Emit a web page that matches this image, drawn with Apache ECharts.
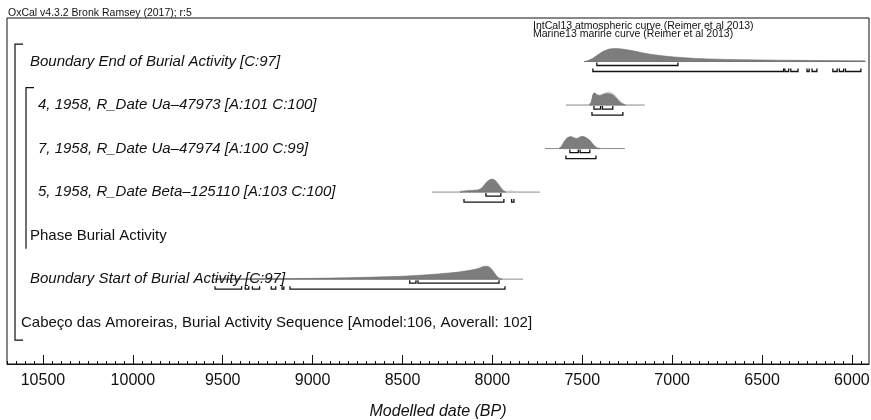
<!DOCTYPE html>
<html><head><meta charset="utf-8">
<script src="https://cdn.jsdelivr.net/npm/echarts@6/dist/echarts.min.js"></script>
<style>html,body{margin:0;padding:0;background:#fff}#c{width:871px;height:420px}</style>
</head><body><div id="c"></div>
<script>
// ---------- data ----------
const rowLabels = [
  'Boundary End of Burial Activity [C:97]',
  '4, 1958, R_Date Ua–47973 [A:101 C:100]',
  '7, 1958, R_Date Ua–47974 [A:100 C:99]',
  '5, 1958, R_Date Beta–125110 [A:103 C:100]',
  'Phase Burial Activity',
  'Boundary Start of Burial Activity [C:97]',
  'Cabeço das Amoreiras, Burial Activity Sequence [Amodel:106, Aoverall: 102]'
];
const rowItalic = [true, true, true, true, false, true, false];
const majorTicks = [6000, 6500, 7000, 7500, 8000, 8500, 9000, 9500, 10000, 10500];

// [year BP, relative density]
const endPost = [[7490,0],[7470,0.06],[7440,0.25],[7410,0.55],[7380,0.8],[7350,0.96],[7320,1.0],[7290,0.98],[7250,0.9],[7210,0.8],[7170,0.68],[7130,0.58],[7080,0.48],[7030,0.4],[6990,0.35],[6930,0.29],[6870,0.24],[6800,0.2],[6700,0.16],[6620,0.14],[6500,0.12],[6400,0.1],[6300,0.09],[6200,0.08],[6100,0.07],[6000,0.06],[5930,0.05],[5925,0]];
const endBase = [7490, 5925];
const end68 = [[7419,6968]];
const end95 = [[7441,6380],[6373,6352],[6340,6300],[6250,6238],[6222,6195],[6106,6082],[6070,6046],[6036,5950]];

const r4Prior = [[7465,0],[7450,0.25],[7440,0.8],[7430,0.9],[7420,0.78],[7400,0.75],[7385,0.85],[7370,0.95],[7355,1.0],[7340,0.95],[7325,0.85],[7310,0.62],[7295,0.4],[7280,0.2],[7265,0.06],[7250,0]];
const r4Post = [[7460,0],[7450,0.2],[7440,0.85],[7430,0.95],[7420,0.8],[7405,0.72],[7390,0.78],[7375,0.85],[7360,0.88],[7345,0.85],[7330,0.78],[7315,0.6],[7300,0.35],[7285,0.15],[7270,0.04],[7260,0]];
const r4Base = [7591, 7152];
const r4_68 = [[7435,7398],[7388,7330]];
const r4_95 = [[7446,7274]];

const r7Prior = [[7635,0],[7615,0.18],[7600,0.55],[7585,0.82],[7570,0.92],[7555,0.9],[7540,0.8],[7530,0.78],[7520,0.84],[7505,0.94],[7490,0.92],[7475,0.82],[7460,0.66],[7445,0.42],[7430,0.18],[7415,0.05],[7400,0]];
const r7Post = [[7630,0],[7615,0.15],[7600,0.55],[7585,0.8],[7570,0.9],[7555,0.88],[7540,0.78],[7530,0.75],[7520,0.82],[7505,0.92],[7490,0.9],[7475,0.8],[7460,0.65],[7445,0.4],[7430,0.15],[7415,0.03],[7400,0]];
const r7Base = [7708, 7263];
const r7_68 = [[7569,7522],[7512,7458]];
const r7_95 = [[7591,7424]];

const r5Prior = [[8200,0],[8180,0.08],[8150,0.12],[8120,0.14],[8090,0.16],[8070,0.2],[8050,0.4],[8030,0.75],[8010,0.92],[7995,0.95],[7980,0.85],[7965,0.6],[7950,0.3],[7935,0.1],[7920,0.05],[7905,0.08],[7890,0.1],[7875,0.03],[7860,0]];
const r5Post = [[8180,0],[8160,0.05],[8130,0.1],[8100,0.12],[8080,0.15],[8060,0.3],[8045,0.55],[8030,0.8],[8015,0.95],[8000,1.0],[7985,0.9],[7970,0.65],[7955,0.35],[7940,0.1],[7925,0]];
const r5Base = [8336, 7736];
const r5_68 = [[8036,7953]];
const r5_95 = [[8158,7936],[7893,7880]];

const startPost = [[9545,0],[9450,0.01],[9300,0.02],[9100,0.04],[9000,0.06],[8900,0.08],[8800,0.11],[8700,0.14],[8600,0.18],[8500,0.22],[8400,0.3],[8300,0.4],[8200,0.52],[8150,0.62],[8100,0.74],[8070,0.86],[8050,0.98],[8030,1.0],[8015,0.92],[8000,0.7],[7985,0.4],[7970,0.15],[7955,0.02],[7945,0]];
const startBase = [9545, 7830];
const start68 = [[8460,8425],[8414,7963]];
const start95 = [[9543,9395],[9375,9355],[9335,9295],[9230,9205],[9170,9160],[9126,7930]];

// ---------- chart ----------
const dists = [
  {row:0, post:endPost, prior:null, base:endBase, r68:end68, r95:end95},
  {row:1, post:r4Post, prior:r4Prior, base:r4Base, r68:r4_68, r95:r4_95},
  {row:2, post:r7Post, prior:r7Prior, base:r7Base, r68:r7_68, r95:r7_95},
  {row:3, post:r5Post, prior:r5Prior, base:r5Base, r68:r5_68, r95:r5_95},
  {row:5, post:startPost, prior:null, base:startBase, r68:start68, r95:start95}
];
const minorTicks = [];
for (let y = 5950; y <= 10700; y += 50) if (y % 500 !== 0) minorTicks.push(y);

const FONT = 'Liberation Sans';
const H = 13;

function rangeLines(segs, y, children) {
  segs.forEach(s => {
    children.push({type:'polyline', shape:{points:[[s.x1,y-3],[s.x1,y],[s.x2,y],[s.x2,y-3]]},
      style:{stroke:'#111', lineWidth:1.3, fill:null}});
  });
}

function renderDist(params, api) {
  const d = dists[params.dataIndex];
  const y0 = api.coord([d.base[0], d.row])[1];
  const px = yr => api.coord([yr, d.row])[0];
  const ch = [];
  ch.push({type:'line', shape:{x1:px(d.base[0]), y1:y0, x2:px(d.base[1]), y2:y0}, style:{stroke:'#8a8a8a', lineWidth:1}});
  const poly = arr => arr.map(p => [px(p[0]), y0 - p[1]*H]);
  if (d.prior) ch.push({type:'polygon', shape:{points:poly(d.prior)}, style:{fill:'#d9d9d9', stroke:'#c4c4c4', lineWidth:0.8}});
  ch.push({type:'polygon', shape:{points:poly(d.post)}, style:{fill:'#7d7d7d', stroke:'#6e6e6e', lineWidth:0.6}});
  rangeLines(d.r68.map(r => ({x1:px(r[0]), x2:px(r[1])})), y0 + 4, ch);
  rangeLines(d.r95.map(r => ({x1:px(r[0]), x2:px(r[1])})), y0 + 10, ch);
  return {type:'group', children:ch};
}

const labelX = [23, 31, 31, 31, 23, 23, 14];
function renderLabels(params, api) {
  const cs = params.coordSys;
  const ch = [];
  rowLabels.forEach((t, i) => {
    const y = api.coord([8000, i])[1];
    ch.push({type:'text', x: cs.x + labelX[i], y: y,
      style:{text:t, font:(rowItalic[i] ? 'italic ' : '') + '15px "' + FONT + '"', fill:'#111', textVerticalAlign:'middle'}});
  });
  // sequence bracket
  const sTop = api.coord([8000, -0.4])[1], sBot = api.coord([8000, 6.4])[1];
  const sx = cs.x + 8;
  ch.push({type:'polyline', shape:{points:[[sx+8,sTop],[sx,sTop],[sx,sBot],[sx+8,sBot]]}, style:{stroke:'#111', lineWidth:1.2, fill:null}});
  // phase bracket
  const pTop = api.coord([8000, 0.6])[1], pBot = api.coord([8000, 4.3])[1];
  const px = cs.x + 19;
  ch.push({type:'polyline', shape:{points:[[px+8,pTop],[px,pTop],[px,pBot]]}, style:{stroke:'#111', lineWidth:1.2, fill:null}});
  return {type:'group', children:ch};
}

const chart = echarts.init(document.getElementById('c'), null, {renderer:'canvas'});
chart.setOption({
  animation:false,
  backgroundColor:'#fff',
  textStyle:{fontFamily:FONT},
  title:{text:'OxCal v4.3.2 Bronk Ramsey (2017); r:5', left:3, top:3, textStyle:{fontSize:10.5, fontWeight:'normal', color:'#111', fontFamily:FONT}},
  graphic:[
    {type:'text', left:533, top:21, style:{text:'IntCal13 atmospheric curve (Reimer et al 2013)', font:'10.5px "'+FONT+'"', fill:'#111'}},
    {type:'text', left:533, top:29, style:{text:'Marine13 marine curve (Reimer et al 2013)', font:'10.5px "'+FONT+'"', fill:'#111'}}
  ],
  grid:{left:7, right:2, top:18, bottom:56, show:true, borderColor:'#111', borderWidth:1, backgroundColor:'transparent',
    containLabel:false, outerBoundsMode:'none'},
  xAxis:[
    {type:'value', inverse:true, min:5905, max:10700, position:'bottom',
      name:'Modelled date (BP)', nameLocation:'middle', nameGap:40,
      nameTextStyle:{fontSize:16, fontStyle:'italic', color:'#111', fontFamily:FONT},
      axisLine:{show:true, onZero:false, lineStyle:{color:'#111', width:1}},
      axisTick:{show:true, inside:true, length:9, customValues:majorTicks, lineStyle:{color:'#111'}},
      axisLabel:{show:true, customValues:majorTicks, fontSize:16, color:'#111', margin:9, fontFamily:FONT,
        formatter: v => String(v)},
      splitLine:{show:false}},
    {type:'value', inverse:true, min:5905, max:10700, position:'bottom',
      axisLine:{show:false, onZero:false},
      axisTick:{show:true, inside:true, length:3, customValues:minorTicks, lineStyle:{color:'#111'}},
      axisLabel:{show:false}, splitLine:{show:false}}
  ],
  yAxis:{type:'value', inverse:true, min:-1, max:6.95, show:false, splitLine:{show:false}},
  series:[
    {type:'custom', renderItem:renderDist, clip:false, silent:true,
      data:dists.map(d => [d.base[0], d.row])},
    {type:'custom', renderItem:renderLabels, clip:false, silent:true, data:[[8000,0]]}
  ]
});
</script></body></html>
